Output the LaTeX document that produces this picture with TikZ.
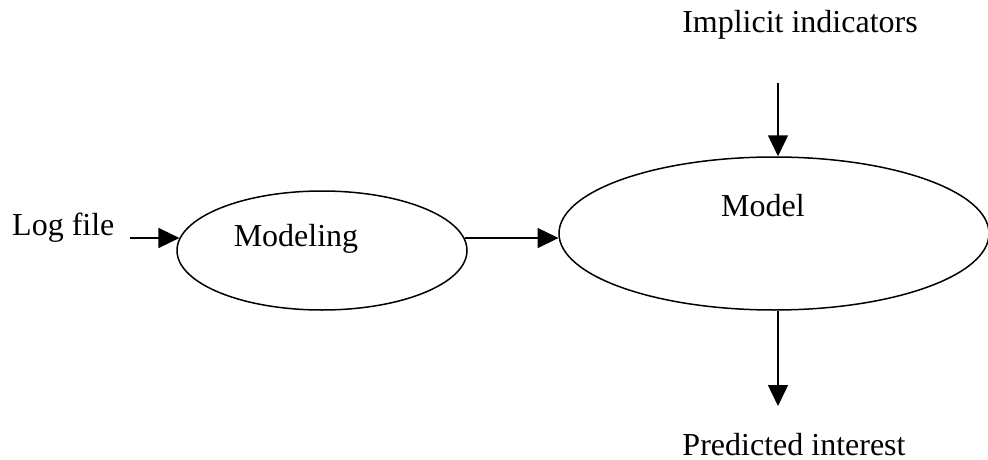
\documentclass[tikz,border=0pt]{standalone}
\usepackage{fontspec}
\setmainfont{Liberation Serif}
\usetikzlibrary{shapes.geometric,arrows.meta}
\begin{document}
\begin{tikzpicture}[x=1pt,y=-1pt,
  every node/.style={font=\fontsize{32}{38}\selectfont},
  bubble/.style={draw,ellipse,line width=1.5pt,inner sep=0pt},
  lbl/.style={anchor=base,inner sep=0pt},
  arr/.style={line width=1.5pt,-{Triangle[length=21pt,width=20pt]}}]
\useasboundingbox (0,0) rectangle (988,460);
\node[bubble,minimum width=290pt,minimum height=119pt] (modeling) at (322,250.5) {};
\node[bubble,minimum width=430pt,minimum height=153pt] (model) at (774,233.5) {};
\node[lbl] (tmodeling) at (296,246) {Modeling};
\node[lbl] (tmodel) at (763,216) {Model};
\node[lbl,anchor=base west] (logfile) at (12,235) {Log file};
\node[lbl] (implicit) at (800,33) {Implicit indicators};
\node[lbl] (predicted) at (794,455) {Predicted interest};
\coordinate (lfstart) at (130,238);
\coordinate (iistart) at (778,83);
\coordinate (piend) at (778,406);
\draw[arr] (lfstart) -- (lfstart -| modeling.175);
\draw[arr] (modeling.5) -- (modeling.5 -| model.181);
\draw[arr] (iistart) -- (iistart |- model.north);
\draw[arr] (piend |- model.south) -- (piend);
\end{tikzpicture}
\end{document}
